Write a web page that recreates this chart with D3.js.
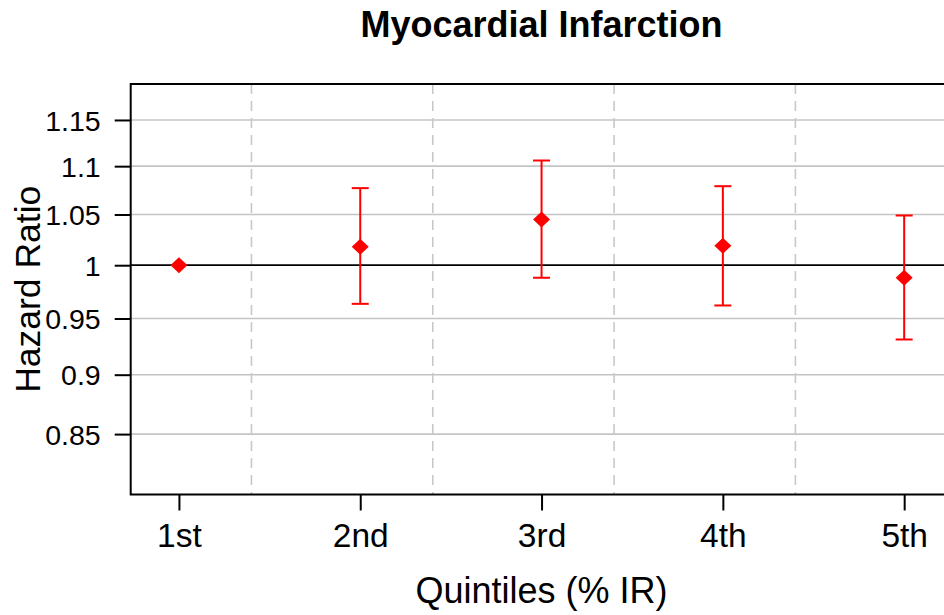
<!DOCTYPE html>
<html>
<head>
<meta charset="utf-8">
<script src="https://cdn.jsdelivr.net/npm/d3@7"></script>
<style>
  html, body { margin: 0; padding: 0; background: #fff; }
  svg { display: block; font-family: "Liberation Sans", Arial, sans-serif; }
</style>
</head>
<body>
<svg id="chart" width="944" height="615"></svg>
<script>
// ---- data ----
const categories = ["1st", "2nd", "3rd", "4th", "5th"];
const hazardRatio = [1.0, 1.018, 1.045, 1.019, 0.988];
const lowerCI = [1.0, 0.9635, 0.988, 0.962, 0.931];
const upperCI = [1.0, 1.077, 1.106, 1.079, 1.049];
const yTickValues = [0.85, 0.9, 0.95, 1, 1.05, 1.1, 1.15];
const yTickLabels = ["0.85", "0.9", "0.95", "1", "1.05", "1.1", "1.15"];
const separators = [1.4, 2.4, 3.4, 4.4];
const titleText = "Myocardial Infarction";
const xTitle = "Quintiles (% IR)";
const yTitle = "Hazard Ratio";

// ---- layout ----
const W = 944, H = 615;
const plot = { left: 130.7, right: 952.4, top: 84, bottom: 494.5 };

const svg = d3.select("#chart");

const x = d3.scaleLinear().domain([0.734, 5.266]).range([plot.left, plot.right]);
const y = d3.scaleLog().domain([0.802, 1.1905]).range([plot.bottom, plot.top]);

// horizontal gridlines
svg.append("g").selectAll("line")
  .data(yTickValues.filter(v => v !== 1))
  .join("line")
  .attr("x1", plot.left).attr("x2", plot.right)
  .attr("y1", d => y(d)).attr("y2", d => y(d))
  .attr("stroke", "#c4c4c4").attr("stroke-width", 1.6);

// vertical dashed separators
svg.append("g").selectAll("line")
  .data(separators)
  .join("line")
  .attr("x1", d => x(d)).attr("x2", d => x(d))
  .attr("y1", plot.top).attr("y2", plot.bottom)
  .attr("stroke", "#c8c8c8").attr("stroke-width", 1.6)
  .attr("stroke-dasharray", "10,7");

// reference line at 1
svg.append("line")
  .attr("x1", plot.left).attr("x2", plot.right)
  .attr("y1", y(1)).attr("y2", y(1))
  .attr("stroke", "#000").attr("stroke-width", 1.8);

// plot border
svg.append("rect")
  .attr("x", plot.left).attr("y", plot.top)
  .attr("width", plot.right - plot.left).attr("height", plot.bottom - plot.top)
  .attr("fill", "none").attr("stroke", "#000").attr("stroke-width", 2);

// y axis
const yAxis = d3.axisLeft(y)
  .tickValues(yTickValues)
  .tickFormat((d, i) => yTickLabels[i])
  .tickSize(16).tickPadding(14);
const gy = svg.append("g").attr("transform", `translate(${plot.left},0)`).call(yAxis);
gy.select(".domain").remove();
gy.selectAll(".tick line").attr("stroke", "#000").attr("stroke-width", 2);
gy.selectAll(".tick text")
  .attr("font-size", 28.5).attr("fill", "#000")
  .attr("font-family", "Liberation Sans, Arial, sans-serif")
  .attr("dy", "0.36em");

// x axis
const xAxis = d3.axisBottom(x)
  .tickValues(categories.map((c, i) => i + 1))
  .tickFormat((d, i) => categories[i])
  .tickSize(16).tickPadding(13);
const gx = svg.append("g").attr("transform", `translate(0,${plot.bottom})`).call(xAxis);
gx.select(".domain").remove();
gx.selectAll(".tick line").attr("stroke", "#000").attr("stroke-width", 2);
gx.selectAll(".tick text")
  .attr("font-size", 33.5).attr("fill", "#000")
  .attr("font-family", "Liberation Sans, Arial, sans-serif")
  .attr("dy", "0.71em");

// error bars
const bars = svg.append("g");
const capHalf = 8.5;
categories.forEach((c, i) => {
  if (upperCI[i] === lowerCI[i]) return;
  const cx = x(i + 1);
  bars.append("line")
    .attr("x1", cx).attr("x2", cx)
    .attr("y1", y(lowerCI[i])).attr("y2", y(upperCI[i]))
    .attr("stroke", "#ff0000").attr("stroke-width", 2);
  [lowerCI[i], upperCI[i]].forEach(v => {
    bars.append("line")
      .attr("x1", cx - capHalf).attr("x2", cx + capHalf)
      .attr("y1", y(v)).attr("y2", y(v))
      .attr("stroke", "#ff0000").attr("stroke-width", 2);
  });
});

// points (diamonds)
svg.append("g").selectAll("path")
  .data(hazardRatio)
  .join("path")
  .attr("transform", (d, i) => `translate(${x(i + 1)},${y(d)})`)
  .attr("d", "M0,-8 L8.5,0 L0,8 L-8.5,0 Z")
  .attr("fill", "#ff0000");

// titles
svg.append("text")
  .attr("x", (plot.left + plot.right) / 2).attr("y", 37)
  .attr("text-anchor", "middle")
  .attr("font-size", 36).attr("font-weight", "bold")
  .text(titleText);

svg.append("text")
  .attr("x", (plot.left + plot.right) / 2).attr("y", 603)
  .attr("text-anchor", "middle")
  .attr("font-size", 36)
  .text(xTitle);

svg.append("text")
  .attr("transform", `translate(39.5,${(plot.top + plot.bottom) / 2}) rotate(-90)`)
  .attr("text-anchor", "middle")
  .attr("font-size", 35.5)
  .text(yTitle);
</script>
</body>
</html>
